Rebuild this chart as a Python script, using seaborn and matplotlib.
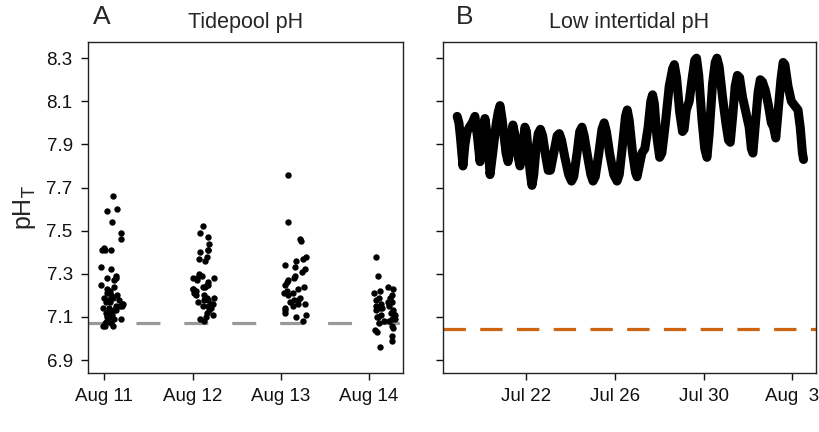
import numpy as np
import pandas as pd
import matplotlib
matplotlib.use("Agg")
import matplotlib.pyplot as plt
import seaborn as sns

# --- tidepool samples (panel A) ---
tide_days = [11.09, 12.12, 13.16, 14.17]
tide_labels = ["Aug 11", "Aug 12", "Aug 13", "Aug 14"]
ph_aug11 = [7.66, 7.60, 7.59, 7.54, 7.49, 7.46, 7.42, 7.41, 7.41, 7.41, 7.33, 7.32,
            7.29, 7.28, 7.28, 7.27, 7.25, 7.24, 7.23, 7.22, 7.21, 7.20, 7.20, 7.19,
            7.19, 7.18, 7.18, 7.17, 7.17, 7.16, 7.16, 7.15, 7.15, 7.15, 7.14, 7.14,
            7.13, 7.13, 7.13, 7.12, 7.12, 7.11, 7.11, 7.10, 7.10, 7.09, 7.09, 7.08,
            7.08, 7.07, 7.07, 7.06, 7.06, 7.06]
ph_aug12 = [7.52, 7.49, 7.47, 7.44, 7.41, 7.41, 7.40, 7.38, 7.37, 7.36, 7.30, 7.29,
            7.28, 7.28, 7.28, 7.27, 7.26, 7.25, 7.25, 7.24, 7.24, 7.23, 7.23, 7.22,
            7.22, 7.21, 7.21, 7.20, 7.20, 7.19, 7.19, 7.18, 7.18, 7.17, 7.16, 7.16,
            7.15, 7.15, 7.14, 7.13, 7.12, 7.11, 7.10, 7.09, 7.08]
ph_aug13 = [7.76, 7.54, 7.46, 7.45, 7.38, 7.37, 7.36, 7.34, 7.33, 7.32, 7.31, 7.29,
            7.28, 7.27, 7.26, 7.25, 7.24, 7.23, 7.22, 7.21, 7.21, 7.20, 7.19, 7.18,
            7.18, 7.17, 7.16, 7.16, 7.15, 7.14, 7.13, 7.12, 7.11, 7.10, 7.08]
ph_aug14 = [7.38, 7.29, 7.24, 7.23, 7.22, 7.21, 7.20, 7.19, 7.19, 7.18, 7.17, 7.17,
            7.16, 7.16, 7.15, 7.15, 7.14, 7.14, 7.13, 7.13, 7.12, 7.12, 7.11, 7.11,
            7.10, 7.10, 7.09, 7.09, 7.08, 7.08, 7.07, 7.06, 7.05, 7.04, 7.03, 7.01,
            6.99, 6.96]
tide_threshold = 7.07

# --- low intertidal sensor record (panel B), day of July ---
sensor_day = [18.90, 18.98, 19.05, 19.16, 19.25, 19.35, 19.45, 19.58, 19.70, 19.82,
              19.93, 20.05, 20.15, 20.28, 20.38, 20.50, 20.65, 20.75, 20.83, 20.92,
              21.00, 21.10, 21.19, 21.30, 21.41, 21.55, 21.65, 21.73, 21.85, 21.95,
              22.02, 22.10, 22.20, 22.27,
              22.35, 22.45, 22.55, 22.65, 22.75, 22.88, 23.00, 23.10, 23.25, 23.40,
              23.50, 23.60, 23.75, 23.92, 24.05, 24.15, 24.30, 24.42, 24.52, 24.62,
              24.78, 24.92, 25.02, 25.12, 25.28, 25.42, 25.52, 25.62, 25.78, 25.95,
              26.10, 26.20, 26.35, 26.48, 26.56, 26.65, 26.80, 26.93, 27.00, 27.10,
              27.22, 27.35, 27.50, 27.62, 27.70, 27.78, 27.90, 28.02, 28.12, 28.28,
              28.45, 28.60, 28.68, 28.78, 28.92, 29.05, 29.12, 29.22, 29.35, 29.50,
              29.60, 29.68, 29.78, 29.92, 30.05, 30.15, 30.25, 30.40, 30.52, 30.60,
              30.70, 30.85, 31.00, 31.12, 31.20, 31.30, 31.42, 31.52, 31.62, 31.75,
              31.90, 32.05, 32.15, 32.22, 32.32, 32.45, 32.55, 32.65, 32.78, 32.92,
              33.05, 33.15, 33.25, 33.35, 33.48, 33.58, 33.66, 33.80, 33.95, 34.10,
              34.25, 34.35, 34.45, 34.50]
sensor_ph = [8.03, 8.00, 7.93, 7.80, 7.90, 7.96, 7.98, 8.00, 8.03, 7.93,
             7.82, 7.95, 8.02, 7.92, 7.76, 7.86, 7.99, 8.05, 8.08, 8.02,
             7.95, 7.86, 7.82, 7.90, 7.99, 7.92, 7.84, 7.80, 7.88, 7.98,
             7.96, 7.86, 7.76, 7.71,
             7.76, 7.88, 7.95, 7.97, 7.94, 7.85, 7.78, 7.78, 7.86, 7.94,
             7.95, 7.92, 7.84, 7.76, 7.73, 7.75, 7.86, 7.96, 7.98, 7.94,
             7.84, 7.76, 7.73, 7.75, 7.86, 7.97, 8.00, 7.96, 7.85, 7.76,
             7.73, 7.76, 7.90, 8.03, 8.06, 8.01, 7.86, 7.77, 7.75, 7.80,
             7.86, 7.88, 7.98, 8.10, 8.13, 8.09, 7.93, 7.84, 7.86, 8.00,
             8.17, 8.25, 8.27, 8.21, 8.05, 7.96, 7.97, 8.06, 8.10, 8.22,
             8.29, 8.30, 8.22, 8.02, 7.88, 7.84, 7.95, 8.18, 8.28, 8.30,
             8.26, 8.12, 8.00, 7.92, 7.91, 8.02, 8.17, 8.22, 8.21, 8.12,
             8.05, 7.98, 7.88, 7.86, 7.98, 8.14, 8.20, 8.19, 8.15, 8.08,
             8.00, 7.98, 7.93, 8.05, 8.20, 8.28, 8.27, 8.17, 8.10, 8.08,
             8.06, 7.98, 7.86, 7.83]
sensor_threshold = 7.045
sensor_ticks = [22, 26, 30, 34]
sensor_labels = ["Jul 22", "Jul 26", "Jul 30", "Aug  3"]

yticks = [6.9, 7.1, 7.3, 7.5, 7.7, 7.9, 8.1, 8.3]

sns.set_style("ticks")
plt.rcParams["font.family"] = ["Liberation Sans", "DejaVu Sans"]
plt.rcParams["axes.linewidth"] = 1.0

tide_df = pd.DataFrame({
    "day": np.repeat(tide_days, [len(ph_aug11), len(ph_aug12), len(ph_aug13), len(ph_aug14)]),
    "ph": ph_aug11 + ph_aug12 + ph_aug13 + ph_aug14,
})
sensor_df = pd.DataFrame({"day": sensor_day, "ph": sensor_ph})

np.random.seed(3)
fig = plt.figure(figsize=(8.2, 4.32), dpi=100)
ax1 = fig.add_axes([0.1073, 0.1366, 0.3841, 0.7662])
ax2 = fig.add_axes([0.5402, 0.1366, 0.4549, 0.7662])

# --- Panel A ---
sns.stripplot(data=tide_df, x="day", y="ph", native_scale=True, orient="x",
              jitter=0.13, color="black", size=4.6, linewidth=0, ax=ax1, zorder=3)
ax1.axhline(tide_threshold, color="#999999", lw=2.3, dashes=(7.5, 7.5), zorder=2)
ax1.set_xlim(10.815, 14.385)
ax1.set_xticks([11, 12, 13, 14])
ax1.set_xticklabels(tide_labels)
ax1.set_title("Tidepool pH", fontsize=15.5, pad=10)
ax1.text(0.015, 1.04, "A", transform=ax1.transAxes, fontsize=19, va="bottom")
ax1.set_ylabel(r"pH$_\mathrm{T}$", fontsize=18, labelpad=6)
ax1.set_xlabel("")

# --- Panel B ---
sns.lineplot(data=sensor_df, x="day", y="ph", color="black", lw=6.5, ax=ax2,
             solid_joinstyle="round", solid_capstyle="round", sort=False)
ax2.axhline(sensor_threshold, color="#CC6411", lw=2.3, dashes=(7, 4.5))
ax2.set_xlim(18.26, 35.06)
ax2.set_xticks(sensor_ticks)
ax2.set_xticklabels(sensor_labels)
ax2.set_title("Low intertidal pH", fontsize=15.5, pad=10)
ax2.text(0.035, 1.04, "B", transform=ax2.transAxes, fontsize=19, va="bottom")
ax2.set_xlabel("")
ax2.set_ylabel("")

for ax in (ax1, ax2):
    ax.set_ylim(6.84, 8.375)
    ax.set_yticks(yticks)
    ax.tick_params(labelsize=13.5, length=5, width=1.0, pad=6, colors="#111111")
    for s in ax.spines.values():
        s.set_visible(True)
        s.set_color("#222222")
ax2.tick_params(labelleft=False)

fig.savefig("out.png", dpi=100)
